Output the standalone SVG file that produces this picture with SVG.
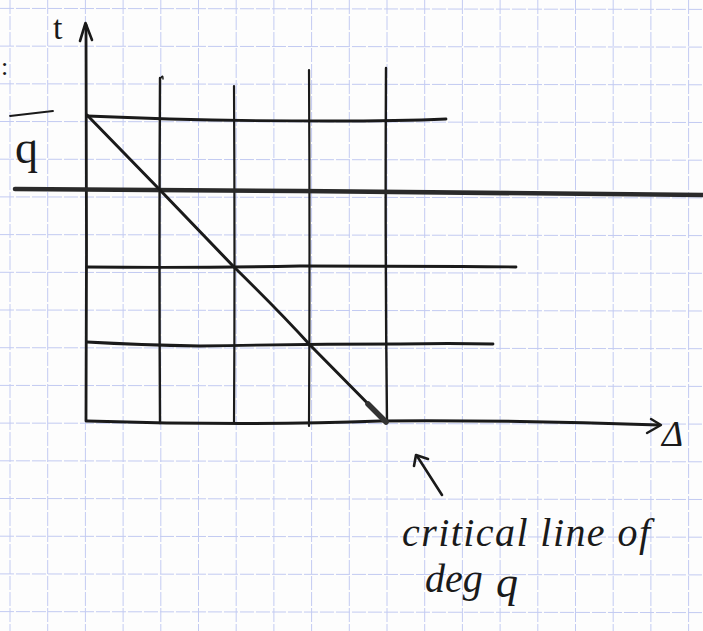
<svg xmlns="http://www.w3.org/2000/svg" width="703" height="631" viewBox="0 0 703 631">
<style>
.grid line{stroke:#c3cbf2;stroke-width:1;stroke-dasharray:14 2}
.pen{fill:none;stroke:#1a1a1a;stroke-linecap:round;stroke-linejoin:round}
.hand{font-family:"Liberation Serif",serif;fill:#1a1a1a}
</style>
<rect width="703" height="631" fill="#fdfdfd"/>
<g class="grid" id="paper-grid">
<line x1="10" y1="0" x2="10" y2="631"/>
<line x1="47.7" y1="0" x2="47.7" y2="631"/>
<line x1="85.4" y1="0" x2="85.4" y2="631"/>
<line x1="123.1" y1="0" x2="123.1" y2="631"/>
<line x1="160.8" y1="0" x2="160.8" y2="631"/>
<line x1="198.5" y1="0" x2="198.5" y2="631"/>
<line x1="236.2" y1="0" x2="236.2" y2="631"/>
<line x1="273.9" y1="0" x2="273.9" y2="631"/>
<line x1="311.6" y1="0" x2="311.6" y2="631"/>
<line x1="349.3" y1="0" x2="349.3" y2="631"/>
<line x1="387" y1="0" x2="387" y2="631"/>
<line x1="424.7" y1="0" x2="424.7" y2="631"/>
<line x1="462.4" y1="0" x2="462.4" y2="631"/>
<line x1="500.1" y1="0" x2="500.1" y2="631"/>
<line x1="537.8" y1="0" x2="537.8" y2="631"/>
<line x1="575.5" y1="0" x2="575.5" y2="631"/>
<line x1="613.2" y1="0" x2="613.2" y2="631"/>
<line x1="650.9" y1="0" x2="650.9" y2="631"/>
<line x1="688.6" y1="0" x2="688.6" y2="631"/>
<line x1="0" y1="8.4" x2="703" y2="9.4"/>
<line x1="0" y1="46.1" x2="703" y2="47.1"/>
<line x1="0" y1="83.8" x2="703" y2="84.8"/>
<line x1="0" y1="121.5" x2="703" y2="122.5"/>
<line x1="0" y1="159.2" x2="703" y2="160.2"/>
<line x1="0" y1="196.9" x2="703" y2="197.9"/>
<line x1="0" y1="234.6" x2="703" y2="235.6"/>
<line x1="0" y1="272.3" x2="703" y2="273.3"/>
<line x1="0" y1="310" x2="703" y2="311"/>
<line x1="0" y1="347.7" x2="703" y2="348.7"/>
<line x1="0" y1="385.4" x2="703" y2="386.4"/>
<line x1="0" y1="423.1" x2="703" y2="424.1"/>
<line x1="0" y1="460.8" x2="703" y2="461.8"/>
<line x1="0" y1="498.5" x2="703" y2="499.5"/>
<line x1="0" y1="536.2" x2="703" y2="537.2"/>
<line x1="0" y1="573.9" x2="703" y2="574.9"/>
<line x1="0" y1="611.6" x2="703" y2="612.6"/>
</g>
<g id="axes">
<path class="pen" style="stroke-width:2.8" d="M86,421 L86.5,250 L86,25"/>
<path class="pen" style="stroke-width:2.6" d="M80,41 L85.5,23 L92,40"/>
<path class="pen" style="stroke-width:3" d="M87,421 Q250,426 380,421 Q520,420 659,425"/>
<path class="pen" style="stroke-width:2.4" d="M651,419 L661,425 L647,433"/>
<text class="hand" x="53" y="39" font-size="34">t</text>
<text class="hand" x="662" y="446" font-size="36" font-style="italic">Δ</text>
</g>
<g id="grid-lines">
<path class="pen" style="stroke-width:2.4" d="M160,78 Q159,250 160,423"/>
<path class="pen" style="stroke-width:1.5" d="M161,78 Q163,74 163,79"/>
<path class="pen" style="stroke-width:2.2" d="M234,86 Q235,260 234,423"/>
<path class="pen" style="stroke-width:2.2" d="M309,70 Q310,250 309,426"/>
<path class="pen" style="stroke-width:2.4" d="M386,68 Q385,250 387,423"/>
<path class="pen" style="stroke-width:2.8" d="M87,116 Q200,121 330,121 Q400,121 446,119"/>
<path class="pen" style="stroke-width:4.6;stroke:#2a2a2a" d="M15,189 Q150,190 300,191 Q500,193 703,195"/>
<path class="pen" style="stroke-width:2.8" d="M87,267 Q200,268 300,266 Q420,266 516,267"/>
<path class="pen" style="stroke-width:2.8" d="M87,342 Q140,345 200,346 Q300,344 400,344 Q450,343 493,344"/>
</g>
<g id="critical-line">
<path class="pen" style="stroke-width:3" d="M87,115 L160,190 L234,267 Q280,312 310,345 L386,422"/>
<path class="pen" style="stroke-width:5.5;stroke:#333" d="M368,404 L386,422"/>
</g>
<g id="q-label">
<path class="pen" style="stroke-width:1.8" d="M10,116 L53,111"/>
<text class="hand" x="15" y="163" font-size="46">q</text>
<text class="hand" x="1" y="75" font-size="26">:</text>
</g>
<g id="annotation">
<path class="pen" style="stroke-width:2.6" d="M442,495 L417,456"/>
<path class="pen" style="stroke-width:2.6" d="M414,466 L416,455 L428,459"/>
<text class="hand" x="402" y="546" font-size="40" font-style="italic" textLength="248" lengthAdjust="spacing">critical line of</text>
<text class="hand" x="425" y="592" font-size="40" font-style="italic">deg</text>
<text class="hand" x="496" y="597" font-size="44" font-style="italic">q</text>
</g>
</svg>
